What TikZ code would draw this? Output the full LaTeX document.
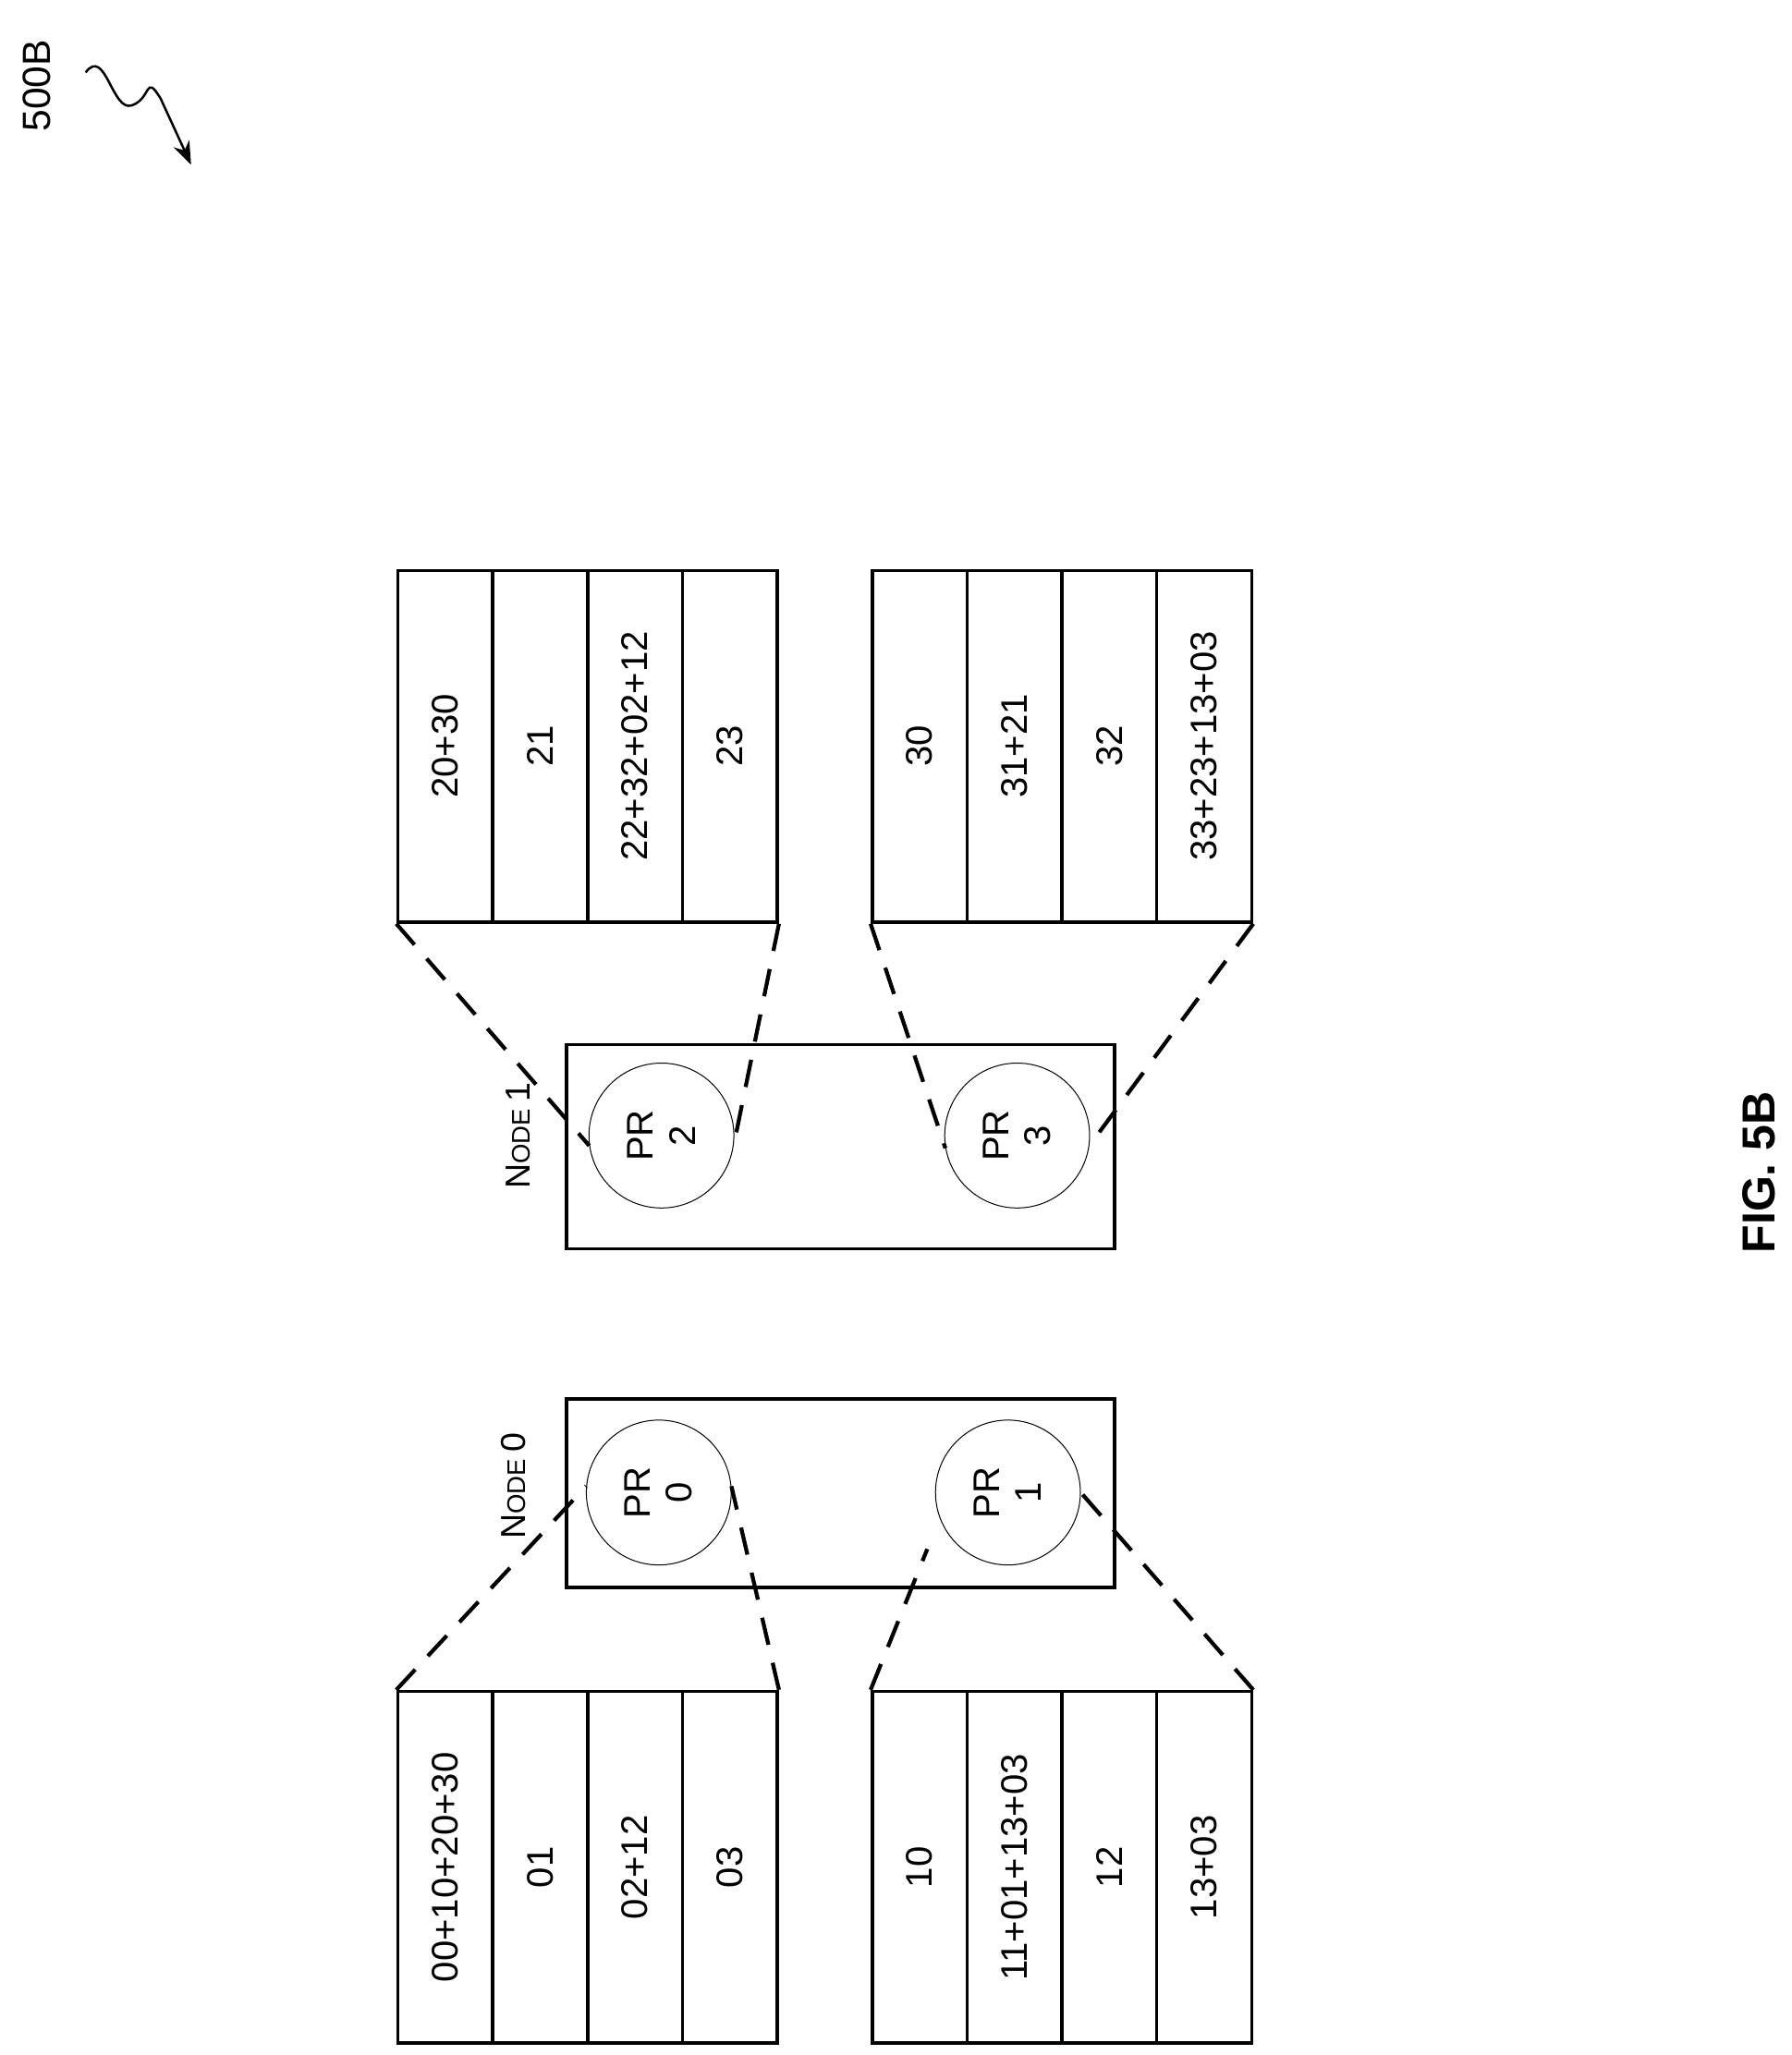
\documentclass[tikz,border=0pt]{standalone}
\usepackage{fontspec}
\setmainfont{Liberation Sans}
\usetikzlibrary{positioning, calc, arrows.meta}
\tikzset{
	cell/.style={draw, line width=1.4pt, rotate=90, minimum width=5.34cm, minimum height=1.44cm, inner sep=0pt, font=\fontsize{16}{18}\selectfont},
	nodebox/.style={draw, line width=1.4pt, minimum width=8.32cm, inner sep=0pt},
	proc/.style={draw, line width=0.4pt, circle, minimum size=2.2cm, rotate=90, align=center, inner sep=0pt, font=\fontsize{16}{18}\selectfont},
	link/.style={line width=1.7pt, dash pattern=on 12pt off 8pt},
	tag/.style={rotate=90, inner sep=0pt}
}
\newcommand{\nodetag}[1]{{\fontsize{15}{16}\selectfont N\fontsize{11}{12}\selectfont ODE \fontsize{15}{16}\selectfont #1}}
\begin{document}
\begin{tikzpicture}[x=0.02cm, y=-0.02cm]
	\useasboundingbox (0, 0) rectangle (1360, 1560);

	% tables
	\foreach \t [count=\i] in {20+30, 21, 22+32+02+12, 23}
		\node[cell] (tl\i) at (266+72*\i, 566.5) {\t};
	\foreach \t [count=\i] in {30, 31+21, 32, 33+23+13+03}
		\node[cell] (tr\i) at (626+72*\i, 566.5) {\t};
	\foreach \t [count=\i] in {00+10+20+30, 01, 02+12, 03}
		\node[cell] (bl\i) at (266+72*\i, 1417.5) {\t};
	\foreach \t [count=\i] in {10, 11+01+13+03, 12, 13+03}
		\node[cell] (br\i) at (626+72*\i, 1417.5) {\t};

	% nodes
	\node[nodebox, minimum height=3.1cm] (node1) at (638, 870.5) {};
	\node[nodebox, minimum height=2.86cm] (node0) at (638, 1133.5) {};
	\node[proc] (pr2) at (502, 862) {PR\\2};
	\node[proc] (pr3) at (772, 862) {PR\\3};
	\node[proc] (pr0) at (500, 1133) {PR\\0};
	\node[proc] (pr1) at (765, 1133) {PR\\1};
	\node[tag] (lab1) at (393, 862) {\nodetag{1}};
	\node[tag] (lab0) at (390, 1128) {\nodetag{0}};

	% links
	\draw[link] (tl1.north west) -- (pr2.98);
	\draw[link] (tl4.south west) -- (pr2.262);
	\draw[link] (tr1.north west) -- (pr3.100);
	\draw[link] (tr4.south west) -- (pr3.262);
	\draw[link] (bl1.north east) -- (pr0.85);
	\draw[link] (bl4.south east) -- (pr0.275);
	\draw[link] (br1.north east) -- ($(pr1.center)!1.35!(pr1.125)$);
	\draw[link] (br4.south east) -- (pr1.270);

	% labels
	\node[tag, font=\fontsize{17}{18}\selectfont] (ref) at (28, 65) {500B};
	\coordinate (sq) at (65, 55);
	\draw[-{Stealth[length=10pt]}, line width=1pt] (sq) .. controls (80, 35) and (85, 85) .. (100, 80) .. controls (115, 75) and (110, 55) .. (122, 75) -- (145, 125);
	\node[tag, font=\bfseries\fontsize{20}{22}\selectfont] (fig) at (1335, 890) {FIG. 5B};
\end{tikzpicture}
\end{document}
